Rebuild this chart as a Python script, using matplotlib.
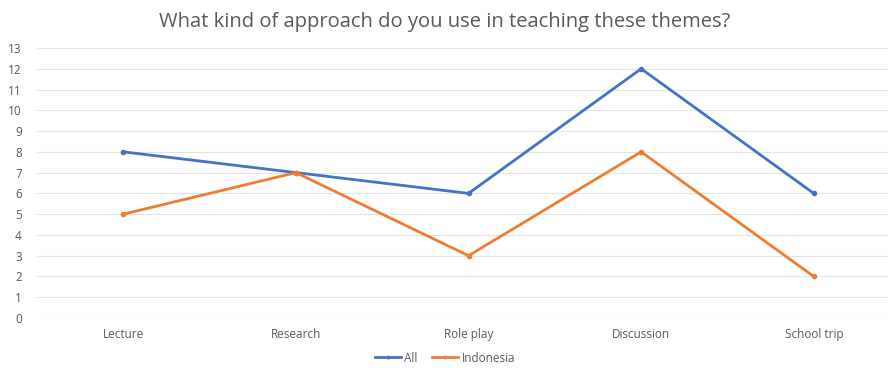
import matplotlib
matplotlib.use("Agg")
import matplotlib.pyplot as plt

categories = ["Lecture", "Research", "Role play", "Discussion", "School trip"]
all_values = [8, 7, 6, 12, 6]
indonesia_values = [5, 7, 3, 8, 2]
y_ticks = list(range(0, 14))

plt.rcParams["font.family"] = ["Open Sans", "DejaVu Sans"]

fig = plt.figure(figsize=(8.90, 3.68), dpi=100)
ax = fig.add_axes([37 / 890, 50 / 368, (888 - 37) / 890, 270 / 368])

x = list(range(len(categories)))
ax.plot(x, all_values, color="#4472C4", linewidth=2, marker="o", markersize=3, label="All")
ax.plot(x, indonesia_values, color="#ED7D31", linewidth=2, marker="o", markersize=3, label="Indonesia")

ax.set_xlim(-0.5, 4.43)
ax.set_ylim(0, 13)
ax.set_yticks(y_ticks)
ax.set_xticks(x)
ax.set_xticklabels(categories)
ax.tick_params(axis="both", length=0, labelsize=8.5, colors="#595959")
ax.tick_params(axis="y", pad=11)
ax.tick_params(axis="x", pad=7)
ax.grid(axis="y", color="#E3E3E3", linewidth=0.8)
ax.set_axisbelow(True)
for s in ax.spines.values():
    s.set_visible(False)

fig.text(0.5, 1 - 22 / 368, "What kind of approach do you use in teaching these themes?",
         ha="center", va="center", fontsize=14.5, color="#595959")

leg = fig.legend(loc="center", bbox_to_anchor=(0.5, 1 - 358 / 368), ncol=2, frameon=False,
                 fontsize=8.5, handlelength=2.2, columnspacing=1.2, handletextpad=0.3,
                 markerscale=0.6)
for t in leg.get_texts():
    t.set_color("#595959")

fig.savefig("out.png", dpi=100)
